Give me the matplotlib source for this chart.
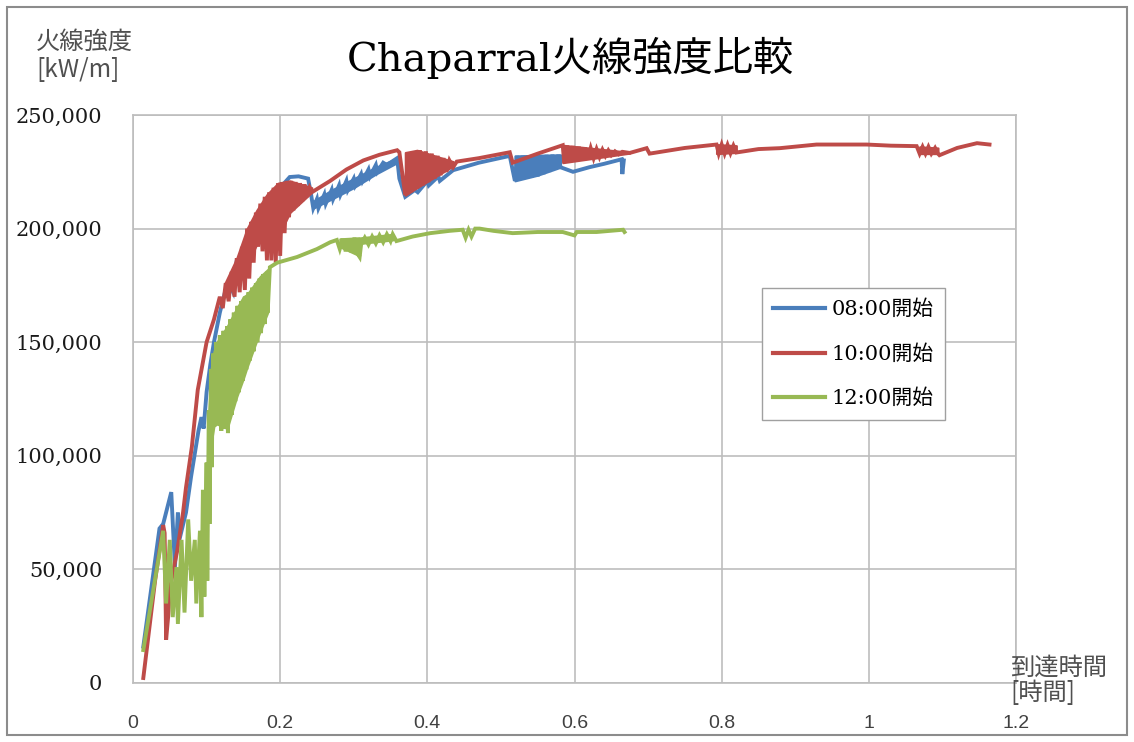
import numpy as np
import matplotlib
matplotlib.use("Agg")
import matplotlib.pyplot as plt
from matplotlib.ticker import FuncFormatter
from matplotlib.patches import Rectangle

# DATA (time [h], fire line intensity [x1000 kW/m])
t_0800 = [0.014, 0.036, 0.041, 0.052, 0.057, 0.061, 0.063, 0.072, 0.079, 0.089, 0.093, 0.096,
          0.100, 0.105, 0.110, 0.118, 0.125, 0.130, 0.136, 0.141, 0.145, 0.150, 0.159, 0.170,
          0.180, 0.190, 0.200, 0.213, 0.225, 0.238, 0.242, 0.245,
          0.250, 0.252, 0.260, 0.262, 0.270, 0.272, 0.280, 0.282, 0.290, 0.292, 0.300, 0.302,
          0.310, 0.312, 0.320, 0.322, 0.330, 0.332, 0.340, 0.345, 0.359, 0.362,
          0.370, 0.383, 0.387, 0.400, 0.402, 0.415, 0.417, 0.435, 0.470, 0.512,
          0.519, 0.522, 0.526, 0.530, 0.534, 0.538, 0.542, 0.546, 0.550, 0.554, 0.558, 0.562,
          0.566, 0.570, 0.574, 0.578, 0.581, 0.598, 0.620, 0.640, 0.664, 0.665, 0.667]
q_0800 = [16, 68, 70, 84, 51, 75, 63, 75, 91, 111, 117, 112,
          128, 140, 150, 163, 172, 176, 172, 186, 180, 192, 199, 205,
          212, 215, 218, 222.7, 223, 222, 215, 209,
          213, 209, 215, 211, 217, 213, 219, 215, 221, 217, 222, 219,
          224, 221, 226, 223, 228, 225, 229, 228, 231, 222,
          214, 217, 216, 221, 219, 223, 221, 225.7, 229, 232,
          221, 232, 221.5, 232, 222, 232, 222.5, 232.2, 223, 232.3, 224, 232.4,
          225, 232.5, 226, 232.5, 227, 225, 227, 228.5, 230.5, 224, 230]

t_1000 = [0.014, 0.030, 0.041, 0.043, 0.045, 0.048, 0.050, 0.055, 0.060, 0.068, 0.072, 0.080,
          0.088, 0.100, 0.110,
          0.118, 0.122, 0.126, 0.130, 0.134, 0.138, 0.141, 0.145, 0.148, 0.152, 0.155, 0.158,
          0.161, 0.164, 0.167, 0.170, 0.173, 0.176, 0.179, 0.182, 0.185, 0.188, 0.191, 0.194,
          0.197, 0.200, 0.203, 0.206, 0.209, 0.212, 0.215, 0.218, 0.221, 0.224, 0.227, 0.230,
          0.233, 0.236, 0.240, 0.243,
          0.263, 0.268, 0.290, 0.313, 0.335, 0.359, 0.362,
          0.370, 0.374, 0.378, 0.382, 0.386, 0.390, 0.394, 0.398, 0.402, 0.406, 0.410, 0.414,
          0.418, 0.422, 0.426, 0.430, 0.435, 0.440, 0.470, 0.512, 0.516, 0.550, 0.584,
          0.586, 0.590, 0.594, 0.598, 0.602, 0.606, 0.610, 0.614, 0.618, 0.622, 0.626, 0.630,
          0.634, 0.638, 0.642, 0.646, 0.650, 0.655, 0.660, 0.665, 0.675,
          0.698, 0.702, 0.750, 0.793, 0.796, 0.800, 0.804, 0.808, 0.812, 0.816, 0.820,
          0.850, 0.879, 0.929, 0.997, 1.030, 1.065,
          1.069, 1.073, 1.077, 1.081, 1.085, 1.090, 1.094, 1.096, 1.120, 1.147, 1.164]
q_1000 = [2.2, 45, 69.5, 66, 19, 30, 41, 50, 58, 75, 86, 104,
          129, 150, 160,
          170, 165, 176, 168, 181, 170, 187, 172, 192, 173, 200, 178,
          203, 185, 207, 192, 211, 190, 214, 186, 216, 186, 218, 185,
          220, 188, 220.5, 198, 221, 205, 221, 208, 220.5, 210, 220, 212,
          219.5, 214, 218, 216,
          220, 221, 226, 230, 232.5, 234.5, 233.6,
          214.7, 233, 216, 234, 217.5, 234.5, 219, 234, 220.5, 233, 222, 232,
          223.5, 231, 225, 230, 227, 229.5, 231, 233.6, 229, 233, 236.7,
          229, 236.5, 229.3, 236.3, 229.7, 236, 230, 235.7, 230.5, 235.4, 231, 235,
          231.5, 234.7, 232, 234.4, 232.3, 234, 232.7, 233.8, 233.3,
          235.4, 233, 235.5, 237, 233, 237, 233, 236.8, 233.2, 236.5, 233.5,
          235, 235.4, 237, 237, 236.5, 236.3,
          233, 236, 233, 236, 233, 235.5, 233, 232.3, 235.5, 237.6, 237]

t_1200 = [0.014, 0.041, 0.045, 0.050, 0.054, 0.059, 0.061, 0.066, 0.070, 0.075, 0.079, 0.084,
          0.086, 0.091, 0.093, 0.095, 0.097, 0.100,
          0.101, 0.103, 0.104, 0.106, 0.107, 0.109, 0.110, 0.113, 0.115, 0.118, 0.120, 0.123,
          0.125, 0.128, 0.129, 0.132, 0.134, 0.137, 0.139, 0.142, 0.144, 0.147, 0.149, 0.152,
          0.154, 0.157, 0.159, 0.162, 0.164, 0.167, 0.169, 0.172, 0.174, 0.177, 0.179, 0.182,
          0.183, 0.186,
          0.196, 0.223, 0.250, 0.268, 0.277, 0.281, 0.285, 0.289, 0.293, 0.297, 0.301, 0.305,
          0.308, 0.310, 0.315, 0.320, 0.325, 0.330, 0.335, 0.340, 0.345, 0.350, 0.353, 0.358,
          0.380, 0.404, 0.430, 0.448, 0.452, 0.456, 0.460, 0.465, 0.471, 0.490, 0.516, 0.550,
          0.584, 0.600, 0.603, 0.630, 0.666, 0.668]
q_1200 = [14.5, 67, 35, 63, 29, 51, 26, 63, 31, 72, 45, 63,
          35, 67, 29, 85, 38, 97,
          45, 120, 70, 138, 95, 145, 113, 150, 115, 153, 111, 155,
          112, 157, 110, 160, 118, 163, 124, 166, 128, 168, 133, 170,
          138, 172, 142, 174, 146, 176, 150, 178, 154, 180, 158, 181,
          163, 183,
          185, 187.5, 191, 194, 195, 191, 195.5, 190, 195.5, 189.5, 196, 189,
          187.5, 193, 196, 193, 196.5, 193.5, 197, 194, 197.5, 194.5, 197.5, 194.5,
          196.5, 198, 199, 199.5, 196, 199.5, 196.5, 200, 200, 199, 198, 198.5,
          198.5, 197, 198.5, 198.5, 199.5, 198.5]

# dense oscillation regions that show up as solid bands (time, low, high)
band_0800 = [
    ([0.245, 0.270, 0.300, 0.330, 0.359], [209, 213, 218, 224, 229], [212, 217, 222, 227, 231]),
    ([0.519, 0.550, 0.581], [221, 223.5, 227], [232, 232.3, 232.5]),
]
band_1000 = [
    ([0.125, 0.141, 0.155, 0.168, 0.182, 0.197, 0.213, 0.243],
     [170, 176, 184, 193, 196, 196, 207, 216], [176, 187, 200, 208, 215, 220, 221, 218]),
    ([0.370, 0.386, 0.435], [214.7, 218, 227.5], [233.5, 234.5, 229.5]),
    ([0.584, 0.675], [229, 233.2], [236.7, 233.6]),
    ([0.793, 0.820], [233, 233.5], [237, 236.5]),
    ([1.069, 1.094], [233, 233], [236, 235.5]),
]
band_1200 = [
    ([0.103, 0.106, 0.110, 0.114, 0.128, 0.141, 0.150, 0.155, 0.173, 0.183],
     [95, 105, 113, 114, 112, 126, 134, 139, 155, 163],
     [120, 138, 146, 150, 157, 165, 170, 171, 179, 182]),
    ([0.281, 0.308], [192, 188], [195.5, 196]),
    ([0.310, 0.353], [193.5, 195], [196, 197.5]),
]

labels = ["08:00開始", "10:00開始", "12:00開始"]
colors = ["#4a7ebb", "#be4b48", "#98b954"]

serif_jp = ["DejaVu Serif", "Noto Sans CJK JP"]
sans_jp = ["Noto Sans CJK JP", "DejaVu Sans"]

fig = plt.figure(figsize=(11.34, 7.42), dpi=100)
ax = fig.add_axes([133 / 1134, 1 - 683 / 742, 883 / 1134, 568 / 742])

series = [(t_0800, q_0800, band_0800), (t_1000, q_1000, band_1000), (t_1200, q_1200, band_1200)]
for i, (t, q, bands) in enumerate(series):
    ax.plot(t, np.array(q) * 1000, color=colors[i], lw=2.8, label=labels[i],
            solid_joinstyle="miter", zorder=2 + i)
    for bt, lo, hi in bands:
        ax.fill_between(bt, np.array(lo) * 1000, np.array(hi) * 1000,
                        color=colors[i], lw=1.5, zorder=2 + i)

ax.set_xlim(0, 1.2)
ax.set_ylim(0, 250000)
ax.set_xticks(np.arange(0, 1.21, 0.2))
ax.set_xticklabels(["0", "0.2", "0.4", "0.6", "0.8", "1", "1.2"])
ax.set_yticks(np.arange(0, 250001, 50000))
ax.yaxis.set_major_formatter(FuncFormatter(lambda v, p: f"{v:,.0f}"))
ax.grid(True, color="#bdbdbd", lw=1.2)
ax.set_axisbelow(True)
for s in ax.spines.values():
    s.set_color("#bdbdbd")
    s.set_linewidth(1.2)
ax.tick_params(length=0)
ax.tick_params(axis="y", pad=22)
ax.tick_params(axis="x", pad=23)
for lab in ax.get_yticklabels():
    lab.set_fontfamily("DejaVu Serif")
    lab.set_fontsize(15)
    lab.set_color("#1a1a1a")
for lab in ax.get_xticklabels():
    lab.set_fontfamily("Liberation Sans")
    lab.set_fontsize(14)
    lab.set_color("#404040")

leg = ax.legend(loc="upper left", bbox_to_anchor=(0.712, 0.695), borderaxespad=0,
                fancybox=False, edgecolor="#a0a0a0", framealpha=1,
                prop={"family": serif_jp, "size": 15}, handlelength=2.5,
                labelspacing=1.2, handletextpad=0.3, borderpad=0.55)
for line in leg.get_lines():
    line.set_linewidth(3)

fig.text(570 / 1134, 1 - 58 / 742, "Chaparral火線強度比較", ha="center", va="center",
         fontsize=29, family=serif_jp, color="black")
fig.text(36 / 1134, 1 - 29 / 742, "火線強度\n[kW/m]", ha="left", va="top",
         fontsize=17.5, family=sans_jp, color="#505050", linespacing=1.1)
fig.text(1010 / 1134, 1 - 655 / 742, "到達時間\n[時間]", ha="left", va="top",
         fontsize=17.5, family=sans_jp, color="#505050", linespacing=0.95)

fig.patches.append(Rectangle((7 / 1134, 7 / 742), 1120 / 1134, 728 / 742,
                             transform=fig.transFigure, fill=False,
                             edgecolor="#8c8c8c", lw=1.5))

fig.savefig("out.png", dpi=100)
